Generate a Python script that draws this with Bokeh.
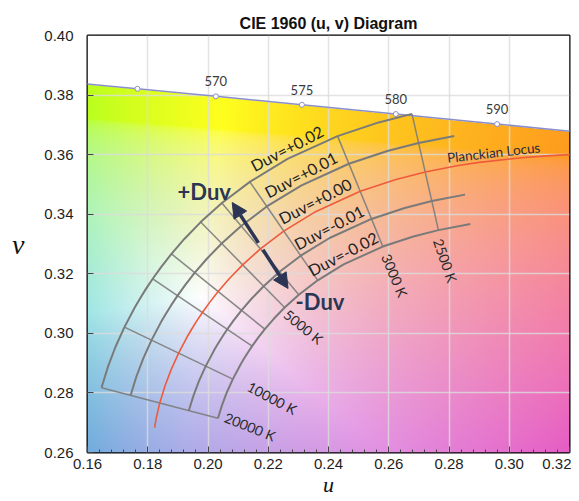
import numpy as np
from bokeh.plotting import figure
from bokeh.models import Range1d, FixedTicker, NumeralTickFormatter, Arrow, NormalHead
from bokeh.core.properties import value
from bokeh.embed import file_html
from bokeh.resources import INLINE

# ---------------- data (CIE 1960 u, v) ----------------
planck_T = [40000, 30000, 20000, 15000, 12000, 10000, 8500, 8000, 7500, 7000, 6500, 6000,
            5500, 5000, 4500, 4000, 3500, 3000, 2700, 2500, 2300, 2200, 2000, 1900, 1800]
planck_u = [0.18228, 0.18273, 0.18398, 0.18568, 0.18777, 0.19025, 0.19325, 0.19461, 0.19622,
            0.19815, 0.20049, 0.20337, 0.20696, 0.21150, 0.21738, 0.22515, 0.23571, 0.25052,
            0.26242, 0.27210, 0.28354, 0.29006, 0.30502, 0.31362, 0.32310]
planck_v = [0.26837, 0.27110, 0.27664, 0.28223, 0.28783, 0.29337, 0.29912, 0.30147, 0.30409,
            0.30702, 0.31032, 0.31405, 0.31825, 0.32301, 0.32837, 0.33434, 0.34086, 0.34768,
            0.35167, 0.35417, 0.35642, 0.35741, 0.35906, 0.35968, 0.36013]

duv_levels = [0.02, 0.01, 0.00, -0.01, -0.02]
duv_text = ["Duv=+0.02", "Duv=+0.01", "Duv=+0.00", "Duv=-0.01", "Duv=-0.02"]
duv_hot_end = 20000
duv_cool_end = [2500, 2300, 2300, 2300, 2300]

iso_T = [20000, 10000, 7000, 6000, 5000, 4500, 4000, 3000, 2500]
iso_label_T = [20000, 10000, 5000, 3000, 2500]
iso_label_text = ["20000 K", "10000 K", "5000 K", "3000 K", "2500 K"]

locus_nm = [560, 565, 570, 575, 580, 585, 590]
locus_u = [0.15310, 0.17658, 0.20260, 0.23117, 0.26234, 0.29596, 0.33153]
locus_v = [0.38440, 0.38212, 0.37958, 0.37674, 0.37363, 0.37027, 0.36674]
marker_nm = [565, 570, 575, 580, 585]
marker_text = ["", "570", "575", "580", "590"]

x_ticks = [0.16, 0.18, 0.20, 0.22, 0.24, 0.26, 0.28, 0.30, 0.32]
y_ticks = [0.26, 0.28, 0.30, 0.32, 0.34, 0.36, 0.38, 0.40]

# ---------------- geometry helpers ----------------
pu = np.array(planck_u)
pv = np.array(planck_v)
idx = {t: i for i, t in enumerate(planck_T)}
tu = np.gradient(pu)
tv = np.gradient(pv)
tn = np.hypot(tu, tv)
tu, tv = tu / tn, tv / tn
nu, nv = -tv, tu          # normal pointing to +Duv

# ---------------- background colours ----------------
nx, ny = 483, 417
us = np.linspace(0.16, 0.32, nx)
vs = np.linspace(0.26, 0.40, ny)
U, V = np.meshgrid(us, vs)
d = 2 * U - 8 * V + 4
cx = 3 * U / d
cy = 2 * V / d
X = cx / cy
Y = np.ones_like(cx)
Z = (1 - cx - cy) / cy
R = 3.2406 * X - 1.5372 * Y - 0.4986 * Z
G = -0.9689 * X + 1.8758 * Y + 0.0415 * Z
B = 0.0557 * X - 0.2040 * Y + 1.0570 * Z
lin = np.clip(np.stack([R, G, B], -1), 0, None)
lin = lin / lin.max(-1, keepdims=True)
lin = lin ** 0.85
sat = 1 - lin.min(-1)
enc = np.where(lin <= 0.0031308, 12.92 * lin, 1.055 * lin ** (1 / 2.4) - 0.055)
enc = enc * (1 - 0.18 * sat * lin[..., 2])[..., None]
rgb = 0.88 * enc + 0.12
above = V > np.interp(U, locus_u, locus_v)
rgb[above] = 1.0
img = np.empty((ny, nx), dtype=np.uint32)
view = img.view(dtype=np.uint8).reshape((ny, nx, 4))
view[..., :3] = np.clip(rgb * 255, 0, 255).astype(np.uint8)
view[..., 3] = 255

# ---------------- figure ----------------
p = figure(width=571, height=500, x_range=Range1d(0.16, 0.32), y_range=Range1d(0.26, 0.40),
           output_backend="svg", toolbar_location=None,
           min_border_left=87, min_border_right=2, min_border_top=35, min_border_bottom=48)
p.background_fill_color = "white"
p.border_fill_color = "white"
p.outline_line_color = "black"
p.outline_line_width = 2

p.title.text = "CIE 1960 (u, v) Diagram"
p.title.align = "center"
p.title.offset = 6
p.title.text_font = "Liberation Sans"
p.title.text_font_size = "16px"
p.title.text_font_style = "bold"
p.title.text_color = "#111111"
p.title.standoff = 8

p.image_rgba(image=[img], x=0.16, y=0.26, dw=0.16, dh=0.14, level="image")

p.xaxis.ticker = FixedTicker(ticks=x_ticks,
                             minor_ticks=list(np.round(np.arange(0.16, 0.3201, 0.004), 3)))
p.yaxis.ticker = FixedTicker(ticks=y_ticks)
p.axis.formatter = NumeralTickFormatter(format="0.00")
p.axis.axis_line_color = None
p.axis.major_tick_in = 6
p.axis.major_tick_out = 0
p.axis.major_tick_line_color = "#444444"
p.xaxis.minor_tick_in = 3
p.xaxis.minor_tick_out = 0
p.xaxis.minor_tick_line_color = "#444444"
p.yaxis.minor_tick_line_color = None
p.axis.major_label_text_font = "Liberation Sans"
p.axis.major_label_text_font_size = "15px"
p.axis.major_label_text_color = "#1e1e1e"
p.xaxis.major_label_standoff = 6
p.yaxis.major_label_standoff = 14

p.xaxis.axis_label = "u"
p.yaxis.axis_label = "v"
p.axis.axis_label_text_font = "Liberation Serif"
p.axis.axis_label_text_font_style = "italic"
p.axis.axis_label_text_color = "#111111"
p.xaxis.axis_label_text_font_size = "22px"
p.yaxis.axis_label_text_font_size = "28px"
p.xaxis.axis_label_standoff = 0
p.yaxis.axis_label_standoff = 17
p.yaxis.axis_label_orientation = "horizontal"

p.grid.grid_line_color = "#dcdcdc"
p.grid.grid_line_alpha = 0.8
p.grid.grid_line_width = 1.5

# spectral locus
p.line(locus_u, locus_v, line_color="#8a8fcc", line_width=1.5)
mk = [locus_nm.index(n) for n in marker_nm]
mu = [locus_u[i] for i in mk]
mv = [locus_v[i] for i in mk]
p.scatter(mu, mv, size=5, fill_color="white", line_color="#8a8fcc", line_width=1)
p.text([u for u, t in zip(mu, marker_text) if t], [v + 0.0050 for v, t in zip(mv, marker_text) if t],
       text=[t for t in marker_text if t], text_font=value("Lato"), text_font_size="13px",
       text_color="#3a3a3a", text_align="center", text_baseline="middle")

# isotherms
for T in iso_T:
    i = idx[T]
    p.line([pu[i] - 0.02 * nu[i], pu[i] + 0.02 * nu[i]],
           [pv[i] - 0.02 * nv[i], pv[i] + 0.02 * nv[i]],
           line_color="#7c7c7c", line_width=1.5, line_alpha=0.9)

# Duv curves
for lvl, tc in zip(duv_levels, duv_cool_end):
    if lvl == 0:
        continue
    a, b = idx[duv_hot_end], idx[tc] + 1
    p.line(pu[a:b] + lvl * nu[a:b], pv[a:b] + lvl * nv[a:b],
           line_color="#7a7a7a", line_width=2)

# Planckian locus
p.line(planck_u, planck_v, line_color="#ee5a3c", line_width=1.6)

# Duv labels
i35 = idx[3500]
ang = np.arctan2(tv[i35], tu[i35])
lab_u = [pu[i35] + (l + 0.0033) * nu[i35] + 0.0015 * tu[i35] for l in duv_levels]
lab_v = [pv[i35] + (l + 0.0033) * nv[i35] + 0.0015 * tv[i35] for l in duv_levels]
p.text(lab_u, lab_v, text=duv_text, angle=[ang] * 5, text_font=value("Lato"),
       text_font_size="16px", text_color="#222222", text_align="center", text_baseline="middle")

p.text([0.2948], [0.3607], text=["Planckian Locus"], angle=[np.radians(6.5)],
       text_font=value("Lato"), text_font_size="13.5px", text_color="#2a2a3a",
       text_align="center", text_baseline="middle")

# isotherm labels
iso_gap = [0.0110, 0.0145, 0.0090, 0.0105, 0.0105]
iso_ang = [-22, -28, -39, -67, -71]
il_u, il_v = [], []
for T, g in zip(iso_label_T, iso_gap):
    i = idx[T]
    il_u.append(pu[i] - (0.02 + g) * nu[i])
    il_v.append(pv[i] - (0.02 + g) * nv[i])
p.text(il_u, il_v, text=iso_label_text, angle=list(np.radians(iso_ang)),
       text_font=value("Lato"), text_font_size="14px", text_color="#2a2a2a",
       text_align="center", text_baseline="middle")

# +Duv / -Duv arrows
ac = "#2c3654"
p.add_layout(Arrow(end=NormalHead(size=15, fill_color=ac, line_color=ac),
                   x_start=0.21674, y_start=0.33038, x_end=0.20803, y_end=0.34394,
                   line_color=ac, line_width=3.5))
p.add_layout(Arrow(end=NormalHead(size=15, fill_color=ac, line_color=ac),
                   x_start=0.21823, y_start=0.32806, x_end=0.22658, y_end=0.31507,
                   line_color=ac, line_width=3.5))
p.text([0.19875, 0.23718], [0.34764, 0.31071], text=["+Duv", "-Duv"],
       text_font=value("Lato"), text_font_size="22px", text_font_style="bold",
       text_color=ac, text_align="center", text_baseline="middle")

open("out.html", "w").write(file_html(p, INLINE))
